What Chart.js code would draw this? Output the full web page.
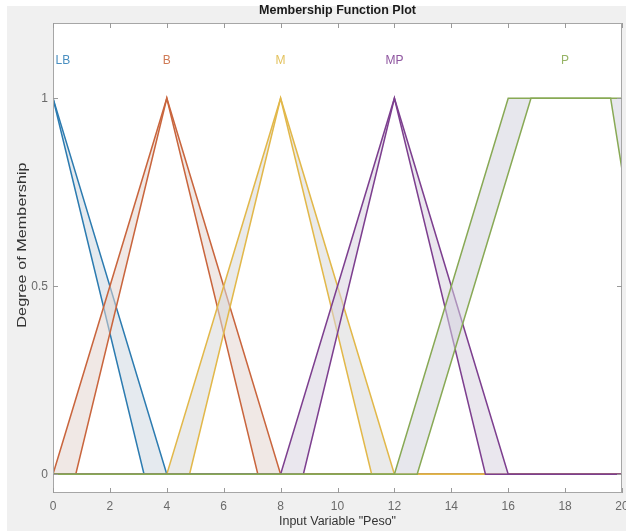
<!DOCTYPE html>
<html>
<head>
<meta charset="utf-8">
<script src="https://cdn.jsdelivr.net/npm/chart.js@4/dist/chart.umd.min.js"></script>
<style>
  html, body { margin: 0; padding: 0; background: #fff; }
  #wrap { width: 626px; height: 531px; }
</style>
</head>
<body>
<div id="wrap"><canvas id="chart" width="626" height="531"></canvas></div>
<script>
// membership function names and where their labels sit
var mfNames = ['LB', 'B', 'M', 'MP', 'P'];
var labelX = [0.35, 4, 8, 12, 18];
var labelY = 1.1;

// upper and lower MFs (breakpoints)
var lbUpperX = [0, 4, 20],            lbUpperY = [1, 0, 0];
var lbLowerX = [0, 3.2, 20],          lbLowerY = [1, 0, 0];
var bUpperX  = [0, 4, 8, 20],         bUpperY  = [0, 1, 0, 0];
var bLowerX  = [0, 0.8, 4, 7.2, 20],  bLowerY  = [0, 0, 1, 0, 0];
var mUpperX  = [0, 4, 8, 12, 20],     mUpperY  = [0, 0, 1, 0, 0];
var mLowerX  = [0, 4.8, 8, 11.2, 20], mLowerY  = [0, 0, 1, 0, 0];
var mpUpperX = [0, 8, 12, 16, 20],    mpUpperY = [0, 0, 1, 0, 0];
var mpLowerX = [0, 8.8, 12, 15.2, 20],mpLowerY = [0, 0, 1, 0, 0];
var pUpperX  = [0, 12, 16, 20],       pUpperY  = [0, 0, 1, 1];
var pLowerX  = [0, 12.8, 16.8, 19.6, 20], pLowerY = [0, 0, 1, 1, 0.81];

// axis ticks
var xTicks = [0, 2, 4, 6, 8, 10, 12, 14, 16, 18, 20];
var yTicks = [0, 0.5, 1];

var lineColors = ['#2c7bb0', '#c9653d', '#e2b84a', '#7d3f8f', '#88a955'];
var textColors = ['#4a8fc0', '#cf7a55', '#e3c25e', '#8f56a0', '#97b466'];
var fillColors = ['rgba(208,216,226,0.55)', 'rgba(228,214,208,0.55)', 'rgba(216,216,216,0.55)',
                  'rgba(216,212,224,0.55)', 'rgba(212,212,222,0.55)'];

var mfs = [
  [lbUpperX, lbUpperY, lbLowerX, lbLowerY],
  [bUpperX, bUpperY, bLowerX, bLowerY],
  [mUpperX, mUpperY, mLowerX, mLowerY],
  [mpUpperX, mpUpperY, mpLowerX, mpLowerY],
  [pUpperX, pUpperY, pLowerX, pLowerY]
];

function pts(xs, ys) {
  var out = [];
  for (var i = 0; i < xs.length; i++) out.push({x: xs[i], y: ys[i]});
  return out;
}

var datasets = [];
for (var i = 0; i < mfs.length; i++) {
  var m = mfs[i];
  // first one drawn = highest order, so LB goes under P
  datasets.push({
    label: mfNames[i] + ' upper',
    data: pts(m[0], m[1]),
    borderColor: lineColors[i],
    backgroundColor: fillColors[i],
    borderWidth: 1.5,
    pointRadius: 0,
    tension: 0,
    fill: '+1',
    order: 10 - 2 * i
  });
  datasets.push({
    label: mfNames[i] + ' lower',
    data: pts(m[2], m[3]),
    borderColor: lineColors[i],
    borderWidth: 1.5,
    pointRadius: 0,
    tension: 0,
    fill: false,
    order: 9 - 2 * i
  });
}

var FONT = '"Liberation Sans", Arial, sans-serif';

var decor = {
  id: 'decor',
  beforeDraw: function (chart) {
    var c = chart.ctx, a = chart.chartArea;
    c.save();
    c.fillStyle = '#ffffff';
    c.fillRect(0, 0, chart.width, chart.height);
    c.fillStyle = '#f0f0f0';
    c.fillRect(7, 6, chart.width - 7, chart.height - 6);
    c.fillStyle = '#ffffff';
    c.fillRect(a.left, a.top, a.right - a.left, a.bottom - a.top);
    c.restore();
  },
  afterDatasetsDraw: function (chart) {
    var c = chart.ctx, a = chart.chartArea;
    var xs = chart.scales.x, ys = chart.scales.y;
    c.save();
    // MF names
    c.font = '12px ' + FONT;
    c.textBaseline = 'middle';
    c.textAlign = 'center';
    for (var i = 0; i < mfNames.length; i++) {
      c.fillStyle = textColors[i];
      c.fillText(mfNames[i], xs.getPixelForValue(labelX[i]), ys.getPixelForValue(labelY));
    }
    // box
    c.strokeStyle = '#a6a6a6';
    c.lineWidth = 1;
    c.strokeRect(a.left + 0.5, a.top + 0.5, a.right - a.left - 1, a.bottom - a.top - 1);
    // inward ticks
    c.strokeStyle = '#9a9a9a';
    c.beginPath();
    xTicks.forEach(function (v) {
      var px = Math.round(xs.getPixelForValue(v)) + 0.5;
      c.moveTo(px, a.bottom); c.lineTo(px, a.bottom - 5);
      c.moveTo(px, a.top); c.lineTo(px, a.top + 5);
    });
    yTicks.forEach(function (v) {
      var py = Math.round(ys.getPixelForValue(v)) + 0.5;
      c.moveTo(a.left, py); c.lineTo(a.left + 5, py);
      c.moveTo(a.right, py); c.lineTo(a.right - 5, py);
    });
    c.stroke();
    // title
    c.fillStyle = '#1a1a1a';
    c.font = 'bold 12.5px ' + FONT;
    c.textAlign = 'center';
    c.fillText('Membership Function Plot', (a.left + a.right) / 2, 11);
    // axis titles
    c.fillStyle = '#333333';
    c.font = '12.5px ' + FONT;
    c.fillText('Input Variable "Peso"', (a.left + a.right) / 2, 522);
    c.translate(22, 245);
    c.rotate(-Math.PI / 2);
    c.scale(1.3, 1.05);
    c.fillText('Degree of Membership', 0, 0);
    c.restore();
  }
};

var ctx = document.getElementById('chart').getContext('2d');
var chart = new Chart(ctx, {
  type: 'line',
  data: { datasets: datasets },
  options: {
    responsive: false,
    animation: false,
    layout: { padding: { top: 23, right: 4, left: 0, bottom: 0 } },
    plugins: {
      legend: { display: false },
      tooltip: { enabled: false },
      title: { display: false },
      filler: { propagate: false }
    },
    scales: {
      x: {
        type: 'linear',
        min: 0, max: 20,
        grid: { display: false, drawTicks: false },
        border: { display: false },
        afterBuildTicks: function (s) { s.ticks = xTicks.map(function (v) { return {value: v}; }); },
        afterFit: function (s) { s.height = 38; s.paddingLeft = 0; s.paddingRight = 0; },
        ticks: { color: '#6a6a6a', padding: 6, maxRotation: 0, font: { family: FONT, size: 12 } }
      },
      y: {
        type: 'linear',
        min: -0.05, max: 1.2,
        grid: { display: false, drawTicks: false },
        border: { display: false },
        afterBuildTicks: function (s) { s.ticks = yTicks.map(function (v) { return {value: v}; }); },
        afterFit: function (s) { s.width = 53; s.paddingTop = 0; s.paddingBottom = 0; },
        ticks: {
          color: '#6a6a6a', padding: 5, font: { family: FONT, size: 12 },
          callback: function (v) { return String(v); }
        }
      }
    }
  },
  plugins: [decor]
});
</script>
</body>
</html>
